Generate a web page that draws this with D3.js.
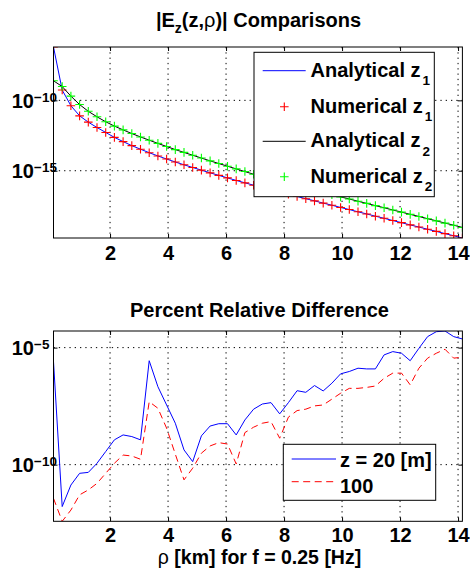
<!DOCTYPE html>
<html>
<head>
<meta charset="utf-8">
<script src="https://cdn.jsdelivr.net/npm/d3@7"></script>
<style>
  html, body { margin: 0; padding: 0; background: #fff; }
  svg text { font-family: "Liberation Sans", Arial, Helvetica, sans-serif; font-weight: bold; fill: #000; }
</style>
</head>
<body>
<svg id="chart" width="470" height="571"></svg>
<script>
// ---------------- data ----------------
const rho = [0.05,0.35,0.65,0.95,1.25,1.55,1.85,2.15,2.45,2.75,3.05,3.35,3.65,3.95,4.25,4.55,
  4.85,5.15,5.45,5.75,6.05,6.35,6.65,6.95,7.25,7.55,7.85,8.15,8.45,8.75,9.05,9.35,
  9.65,9.95,10.25,10.55,10.85,11.15,11.45,11.75,12.05,12.35,12.65,12.95,13.25,13.55,13.85,14.15];

// log10 |Ez| values
const analyticalZ1Log = [-6.21,-9.27,-10.38,-11.10,-11.55,-11.93,-12.28,-12.63,-12.93,-13.22,-13.47,-13.72,
  -13.95,-14.17,-14.38,-14.58,-14.77,-14.96,-15.15,-15.33,-15.51,-15.69,-15.86,-16.03,
  -16.19,-16.35,-16.51,-16.67,-16.83,-16.99,-17.14,-17.30,-17.45,-17.61,-17.76,-17.92,
  -18.07,-18.23,-18.38,-18.54,-18.69,-18.85,-19.00,-19.16,-19.31,-19.47,-19.62,-19.78];
const numericalZ1Log = [-6.21,-9.27,-10.38,-11.10,-11.55,-11.93,-12.28,-12.63,-12.93,-13.22,-13.47,-13.72,
  -13.95,-14.17,-14.38,-14.58,-14.77,-14.96,-15.15,-15.33,-15.51,-15.69,-15.86,-16.03,
  -16.19,-16.35,-16.51,-16.67,-16.83,-16.99,-17.14,-17.30,-17.45,-17.61,-17.76,-17.92,
  -18.07,-18.23,-18.38,-18.54,-18.69,-18.85,-19.00,-19.16,-19.31,-19.47,-19.62,-19.78];
const analyticalZ2Log = [-8.61,-9.02,-9.70,-10.30,-10.78,-11.17,-11.52,-11.83,-12.10,-12.36,-12.60,-12.83,
  -13.06,-13.28,-13.50,-13.70,-13.90,-14.10,-14.30,-14.49,-14.68,-14.87,-15.06,-15.25,
  -15.42,-15.59,-15.76,-15.92,-16.08,-16.24,-16.39,-16.55,-16.70,-16.86,-17.01,-17.17,
  -17.32,-17.48,-17.63,-17.79,-17.94,-18.10,-18.25,-18.41,-18.56,-18.72,-18.87,-19.03];
const numericalZ2Log = [-8.61,-9.02,-9.70,-10.30,-10.78,-11.17,-11.52,-11.83,-12.10,-12.36,-12.60,-12.83,
  -13.06,-13.28,-13.50,-13.70,-13.90,-14.10,-14.30,-14.49,-14.68,-14.87,-15.06,-15.25,
  -15.42,-15.59,-15.76,-15.92,-16.08,-16.24,-16.39,-16.55,-16.70,-16.86,-17.01,-17.17,
  -17.32,-17.48,-17.63,-17.79,-17.94,-18.10,-18.25,-18.41,-18.56,-18.72,-18.87,-19.03];

// log10 percent relative difference
const diffZ20Log = [-5.60,-11.79,-10.87,-10.37,-10.33,-9.94,-9.44,-8.94,-8.73,-8.80,-8.94,-5.56,
  -6.67,-7.45,-8.23,-9.37,-9.87,-8.77,-8.35,-8.25,-8.25,-8.73,-8.09,-7.63,
  -7.41,-7.35,-7.83,-7.35,-6.84,-6.91,-6.62,-6.85,-6.52,-6.12,-6.02,-5.88,
  -5.91,-5.91,-5.31,-5.17,-5.24,-5.56,-5.03,-4.53,-4.32,-4.29,-4.53,-4.63];
const diffZ100Log = [-11.44,-12.42,-11.94,-11.29,-11.08,-10.80,-10.37,-9.94,-9.59,-9.63,-9.77,-7.31,
  -7.59,-8.44,-9.55,-10.65,-10.15,-9.51,-9.20,-9.06,-9.12,-9.97,-8.63,-8.40,
  -8.23,-8.16,-8.87,-7.97,-7.69,-7.63,-7.49,-7.45,-7.20,-6.95,-6.74,-6.74,
  -6.70,-6.64,-6.31,-6.09,-6.09,-6.59,-5.88,-5.45,-5.24,-5.07,-5.45,-5.41];

const xTicks = [2, 4, 6, 8, 10, 12, 14];
const topYTickExps = [-15, -10];
const bottomYTickExps = [-10, -5];
const topLegendLabels = ["Analytical z", "Numerical z", "Analytical z", "Numerical z"];
const topLegendSubs = ["1", "1", "2", "2"];
const bottomLegendLabels = ["z = 20 [m]", "100"];

// ---------------- build ----------------
const toPts = (logs) => logs.map((v, i) => ({ x: rho[i], y: Math.pow(10, v) }));
const aZ1 = toPts(analyticalZ1Log), nZ1 = toPts(numericalZ1Log);
const aZ2 = toPts(analyticalZ2Log), nZ2 = toPts(numericalZ2Log);
const d20 = toPts(diffZ20Log), d100 = toPts(diffZ100Log);

const svg = d3.select("#chart");
const FS = 20;

const x = d3.scaleLinear().domain(d3.extent(rho)).range([53.5, 462.4]);

function panel(cfg) {
  const { y, top, bottom, exps, id, pad } = cfg;
  const g = svg.append("g");
  const left = x.range()[0], right = x.range()[1];

  g.append("clipPath").attr("id", id).append("rect")
    .attr("x", left).attr("y", top).attr("width", right - left).attr("height", bottom - top);

  // grid
  const dash = "1.3,4";
  g.append("g").selectAll("line").data(xTicks).join("line")
    .attr("x1", d => x(d)).attr("x2", d => x(d)).attr("y1", top).attr("y2", bottom)
    .attr("stroke", "#000").attr("stroke-width", 1).attr("stroke-dasharray", dash);
  g.append("g").selectAll("line").data(exps).join("line")
    .attr("x1", left).attr("x2", right).attr("y1", d => y(Math.pow(10, d))).attr("y2", d => y(Math.pow(10, d)))
    .attr("stroke", "#000").attr("stroke-width", 1).attr("stroke-dasharray", dash);

  // axes with inward ticks
  const ax = (a) => a.tickSizeOuter(0);
  const xb = g.append("g").attr("transform", `translate(0,${bottom})`)
    .call(ax(d3.axisBottom(x).tickValues(xTicks).tickSizeInner(-4).tickPadding(pad).tickFormat(d3.format("d"))));
  xb.selectAll("text").style("font-size", FS + "px").attr("dy", "0.71em");
  g.append("g").attr("transform", `translate(0,${top})`)
    .call(ax(d3.axisTop(x).tickValues(xTicks).tickSizeInner(-4).tickFormat("")));
  g.append("g").attr("transform", `translate(${left},0)`)
    .call(ax(d3.axisLeft(y).tickValues(exps.map(e => Math.pow(10, e))).tickSizeInner(-4).tickFormat("")));
  g.append("g").attr("transform", `translate(${right},0)`)
    .call(ax(d3.axisRight(y).tickValues(exps.map(e => Math.pow(10, e))).tickSizeInner(-4).tickFormat("")));
  g.selectAll(".domain").remove();
  g.selectAll(".tick line").attr("stroke", "#000");

  // y labels 10^e
  exps.forEach(e => {
    const yy = y(Math.pow(10, e));
    g.append("text").attr("x", 34).attr("y", yy + 7.2).attr("text-anchor", "end")
      .style("font-size", FS + "px").text("10");
    g.append("text").attr("x", 34).attr("y", yy + 1.4).attr("text-anchor", "start")
      .style("font-size", "13.5px").text("\u2212" + Math.abs(e));
  });

  const plot = g.append("g").attr("clip-path", `url(#${id})`);
  return { g, plot, left, right };
}

// ---------- top panel ----------
const yTop = d3.scaleLog()
  .domain(d3.extent([...aZ1, ...nZ1, ...aZ2, ...nZ2], d => d.y))
  .range([238, 47]);
const P1 = panel({ y: yTop, top: 47, bottom: 238, exps: topYTickExps, id: "clipTop", pad: 8 });

const lineTop = d3.line().x(d => x(d.x)).y(d => yTop(d.y));
const plus = (sel, data, color, r) => sel.append("g").selectAll("path").data(data).join("path")
  .attr("d", d => `M${x(d.x) - r},${yTop(d.y)}H${x(d.x) + r}M${x(d.x)},${yTop(d.y) - r}V${yTop(d.y) + r}`)
  .attr("stroke", color).attr("stroke-width", 1.1).attr("fill", "none");

P1.plot.append("path").datum(aZ1).attr("d", lineTop).attr("fill", "none").attr("stroke", "#0000ff").attr("stroke-width", 1);
plus(P1.plot, nZ1, "#ff0000", 4.3);
P1.plot.append("path").datum(aZ2).attr("d", lineTop).attr("fill", "none").attr("stroke", "#000").attr("stroke-width", 1);
plus(P1.plot, nZ2, "#00ff00", 4.3);

// box
P1.g.append("rect").attr("x", P1.left).attr("y", 47).attr("width", P1.right - P1.left).attr("height", 191)
  .attr("fill", "none").attr("stroke", "#000").attr("stroke-width", 1);

// top legend
const lg1 = svg.append("g");
lg1.append("rect").attr("x", 254).attr("y", 52.3).attr("width", 180.3).attr("height", 144.4)
  .attr("fill", "#fff").attr("stroke", "#000").attr("stroke-width", 1);
const rowsTop = [70.7, 106.7, 141.3, 176.7];
const legendStyles = [
  { type: "line", color: "#0000ff" },
  { type: "plus", color: "#ff0000" },
  { type: "line", color: "#000000" },
  { type: "plus", color: "#00ff00" }
];
legendStyles.forEach((s, i) => {
  const ry = rowsTop[i];
  if (s.type === "line") {
    lg1.append("line").attr("x1", 262.7).attr("x2", 305.7).attr("y1", ry).attr("y2", ry)
      .attr("stroke", s.color).attr("stroke-width", 1);
  } else {
    lg1.append("path").attr("d", `M${284.3 - 4.3},${ry}H${284.3 + 4.3}M284.3,${ry - 4.3}V${ry + 4.3}`)
      .attr("stroke", s.color).attr("stroke-width", 1.1);
  }
  const t = lg1.append("text").attr("x", 310.5).attr("y", ry + 6).style("font-size", FS + "px");
  t.append("tspan").text(topLegendLabels[i]);
  t.append("tspan").attr("dx", 2).attr("dy", 8.5).style("font-size", "13.5px").text(topLegendSubs[i]);
});

// top title
const t1 = svg.append("text").attr("x", 258.5).attr("y", 26.7).attr("text-anchor", "middle").style("font-size", FS + "px");
t1.append("tspan").text("|E");
t1.append("tspan").attr("dy", 6).style("font-size", "14px").text("z");
t1.append("tspan").attr("dy", -6).text("(z,");
t1.append("tspan").style("font-weight", "normal").text("\u03c1");
t1.append("tspan").text(")| Comparisons");

// ---------- bottom panel ----------
const yBot = d3.scaleLog()
  .domain(d3.extent([...d20, ...d100], d => d.y))
  .range([521.3, 331]);
const P2 = panel({ y: yBot, top: 331, bottom: 521.3, exps: bottomYTickExps, id: "clipBot", pad: 6.3 });
const lineBot = d3.line().x(d => x(d.x)).y(d => yBot(d.y));
P2.plot.append("path").datum(d20).attr("d", lineBot).attr("fill", "none").attr("stroke", "#0000ff").attr("stroke-width", 1);
P2.plot.append("path").datum(d100).attr("d", lineBot).attr("fill", "none").attr("stroke", "#ff0000")
  .attr("stroke-width", 1).attr("stroke-dasharray", "7,4.5");
P2.g.append("rect").attr("x", P2.left).attr("y", 331).attr("width", P2.right - P2.left).attr("height", 190.3)
  .attr("fill", "none").attr("stroke", "#000").attr("stroke-width", 1);

// bottom legend
const lg2 = svg.append("g");
lg2.append("rect").attr("x", 283.3).attr("y", 444.3).attr("width", 152.4).attr("height", 56)
  .attr("fill", "#fff").attr("stroke", "#000").attr("stroke-width", 1);
lg2.append("line").attr("x1", 291.7).attr("x2", 336).attr("y1", 459).attr("y2", 459)
  .attr("stroke", "#0000ff").attr("stroke-width", 1);
lg2.append("line").attr("x1", 291.7).attr("x2", 336).attr("y1", 481.7).attr("y2", 481.7)
  .attr("stroke", "#ff0000").attr("stroke-width", 1).attr("stroke-dasharray", "7,4.5");
lg2.append("text").attr("x", 340).attr("y", 466.8).style("font-size", FS + "px").text(bottomLegendLabels[0]);
lg2.append("text").attr("x", 340).attr("y", 492.6).style("font-size", FS + "px").text(bottomLegendLabels[1]);

// bottom title and x label
svg.append("text").attr("x", 259.5).attr("y", 317.3).attr("text-anchor", "middle").style("font-size", FS + "px")
  .text("Percent Relative Difference");
const xl = svg.append("text").attr("x", 259.5).attr("y", 564.2).attr("text-anchor", "middle").style("font-size", "19.5px");
xl.append("tspan").style("font-weight", "normal").text("\u03c1");
xl.append("tspan").text(" [km] for f = 0.25 [Hz]");
</script>
</body>
</html>
